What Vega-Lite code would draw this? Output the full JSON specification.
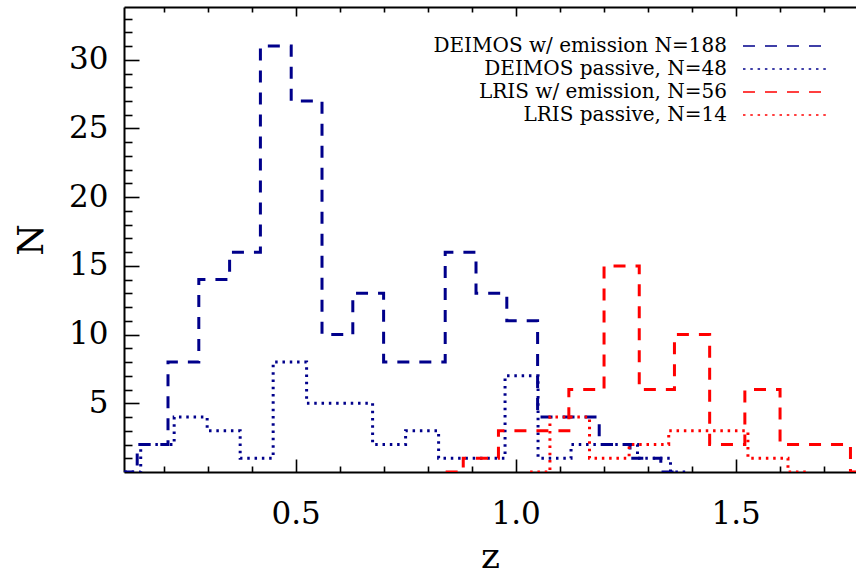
{
  "$schema": "https://vega.github.io/schema/vega-lite/v6.json",
  "width": 732,
  "height": 465,
  "autosize": {"type": "none"},
  "padding": {"left": 124, "top": 7, "right": 0, "bottom": 104},
  "background": "white",
  "config": {
    "view": {"stroke": null},
    "font": "DejaVu Serif",
    "axis": {
      "grid": false,
      "domainColor": "black",
      "domainWidth": 2,
      "tickColor": "black",
      "tickWidth": 1.6,
      "labelColor": "black",
      "titleColor": "black",
      "labelFont": "DejaVu Serif",
      "titleFont": "DejaVu Serif",
      "labelFontSize": 31,
      "titleFontSize": 36,
      "titleFontWeight": "normal"
    },
    "legend": {
      "orient": "none",
      "legendX": 650,
      "legendY": 27.5,
      "title": null,
      "symbolType": "M-4,0L4,0",
      "symbolSize": 451.6,
      "symbolStrokeWidth": 1.5,
      "labelAlign": "right",
      "labelOffset": -70,
      "labelFont": "DejaVu Serif",
      "labelFontSize": 20,
      "labelColor": "black",
      "labelLimit": 500,
      "rowPadding": 1,
      "padding": 0
    }
  },
  "data": {
    "values": [
      {"s": "DEIMOS w/ emission N=188", "z": 0.105, "n": 0},
      {"s": "DEIMOS w/ emission N=188", "z": 0.14, "n": 2},
      {"s": "DEIMOS w/ emission N=188", "z": 0.21, "n": 8},
      {"s": "DEIMOS w/ emission N=188", "z": 0.28, "n": 14},
      {"s": "DEIMOS w/ emission N=188", "z": 0.35, "n": 16},
      {"s": "DEIMOS w/ emission N=188", "z": 0.42, "n": 31},
      {"s": "DEIMOS w/ emission N=188", "z": 0.49, "n": 27},
      {"s": "DEIMOS w/ emission N=188", "z": 0.56, "n": 10},
      {"s": "DEIMOS w/ emission N=188", "z": 0.63, "n": 13},
      {"s": "DEIMOS w/ emission N=188", "z": 0.70, "n": 8},
      {"s": "DEIMOS w/ emission N=188", "z": 0.77, "n": 8},
      {"s": "DEIMOS w/ emission N=188", "z": 0.84, "n": 16},
      {"s": "DEIMOS w/ emission N=188", "z": 0.91, "n": 13},
      {"s": "DEIMOS w/ emission N=188", "z": 0.98, "n": 11},
      {"s": "DEIMOS w/ emission N=188", "z": 1.05, "n": 4},
      {"s": "DEIMOS w/ emission N=188", "z": 1.12, "n": 4},
      {"s": "DEIMOS w/ emission N=188", "z": 1.19, "n": 2},
      {"s": "DEIMOS w/ emission N=188", "z": 1.26, "n": 1},
      {"s": "DEIMOS w/ emission N=188", "z": 1.33, "n": 0},
      {"s": "DEIMOS w/ emission N=188", "z": 1.365, "n": 0},
      {"s": "DEIMOS passive, N=48", "z": 0.111, "n": 0},
      {"s": "DEIMOS passive, N=48", "z": 0.148, "n": 2},
      {"s": "DEIMOS passive, N=48", "z": 0.224, "n": 4},
      {"s": "DEIMOS passive, N=48", "z": 0.299, "n": 3},
      {"s": "DEIMOS passive, N=48", "z": 0.374, "n": 1},
      {"s": "DEIMOS passive, N=48", "z": 0.449, "n": 8},
      {"s": "DEIMOS passive, N=48", "z": 0.525, "n": 5},
      {"s": "DEIMOS passive, N=48", "z": 0.600, "n": 5},
      {"s": "DEIMOS passive, N=48", "z": 0.675, "n": 2},
      {"s": "DEIMOS passive, N=48", "z": 0.750, "n": 3},
      {"s": "DEIMOS passive, N=48", "z": 0.825, "n": 1},
      {"s": "DEIMOS passive, N=48", "z": 0.901, "n": 1},
      {"s": "DEIMOS passive, N=48", "z": 0.976, "n": 7},
      {"s": "DEIMOS passive, N=48", "z": 1.051, "n": 1},
      {"s": "DEIMOS passive, N=48", "z": 1.126, "n": 2},
      {"s": "DEIMOS passive, N=48", "z": 1.201, "n": 2},
      {"s": "DEIMOS passive, N=48", "z": 1.277, "n": 1},
      {"s": "DEIMOS passive, N=48", "z": 1.352, "n": 0},
      {"s": "DEIMOS passive, N=48", "z": 1.390, "n": 0},
      {"s": "LRIS w/ emission, N=56", "z": 0.841, "n": 0},
      {"s": "LRIS w/ emission, N=56", "z": 0.881, "n": 1},
      {"s": "LRIS w/ emission, N=56", "z": 0.961, "n": 3},
      {"s": "LRIS w/ emission, N=56", "z": 1.041, "n": 3},
      {"s": "LRIS w/ emission, N=56", "z": 1.121, "n": 6},
      {"s": "LRIS w/ emission, N=56", "z": 1.201, "n": 15},
      {"s": "LRIS w/ emission, N=56", "z": 1.281, "n": 6},
      {"s": "LRIS w/ emission, N=56", "z": 1.361, "n": 10},
      {"s": "LRIS w/ emission, N=56", "z": 1.441, "n": 2},
      {"s": "LRIS w/ emission, N=56", "z": 1.521, "n": 6},
      {"s": "LRIS w/ emission, N=56", "z": 1.601, "n": 2},
      {"s": "LRIS w/ emission, N=56", "z": 1.681, "n": 2},
      {"s": "LRIS w/ emission, N=56", "z": 1.761, "n": 0},
      {"s": "LRIS w/ emission, N=56", "z": 1.80, "n": 0},
      {"s": "LRIS passive, N=14", "z": 1.033, "n": 0},
      {"s": "LRIS passive, N=14", "z": 1.078, "n": 4},
      {"s": "LRIS passive, N=14", "z": 1.168, "n": 1},
      {"s": "LRIS passive, N=14", "z": 1.258, "n": 2},
      {"s": "LRIS passive, N=14", "z": 1.348, "n": 3},
      {"s": "LRIS passive, N=14", "z": 1.438, "n": 3},
      {"s": "LRIS passive, N=14", "z": 1.528, "n": 1},
      {"s": "LRIS passive, N=14", "z": 1.619, "n": 0},
      {"s": "LRIS passive, N=14", "z": 1.664, "n": 0}
    ]
  },
  "encoding": {
    "color": {
      "field": "s", "type": "nominal",
      "scale": {
        "domain": ["DEIMOS w/ emission N=188", "DEIMOS passive, N=48", "LRIS w/ emission, N=56", "LRIS passive, N=14"],
        "range": ["#00008B", "#00008B", "#FF0000", "#FF0000"]
      }
    },
    "strokeDash": {
      "field": "s", "type": "nominal",
      "scale": {
        "domain": ["DEIMOS w/ emission N=188", "DEIMOS passive, N=48", "LRIS w/ emission, N=56", "LRIS passive, N=14"],
        "range": [[12, 10], [2.5, 4.8], [12, 10], [2.5, 4.8]]
      }
    }
  },
  "layer": [
    {
      "transform": [{"filter": "datum.s === 'DEIMOS w/ emission N=188'"}],
      "mark": {"type": "line", "interpolate": "step-after", "clip": true, "strokeWidth": 3},
      "encoding": {
        "x": {"field": "z", "type": "quantitative",
          "scale": {"domain": [0.11, 1.7736], "nice": false, "zero": false},
          "axis": {"orient": "bottom", "values": [0.5, 1.0, 1.5], "format": ".1f", "tickSize": -13, "labelPadding": 40, "title": "z", "titlePadding": 10}},
        "y": {"field": "n", "type": "quantitative",
          "scale": {"domain": [0, 33.84], "nice": false},
          "axis": {"orient": "left", "values": [5, 10, 15, 20, 25, 30], "tickSize": -15, "labelPadding": 31, "title": "N", "titlePadding": 18}}
      }
    },
    {
      "transform": [{"filter": "datum.s === 'DEIMOS passive, N=48'"}],
      "mark": {"type": "line", "interpolate": "step-after", "clip": true, "strokeWidth": 3},
      "encoding": {
        "x": {"field": "z", "type": "quantitative",
          "scale": {"domain": [0.11, 1.7736], "nice": false, "zero": false},
          "axis": {"orient": "bottom", "values": [0.2, 0.3, 0.4, 0.6, 0.7, 0.8, 0.9, 1.1, 1.2, 1.3, 1.4, 1.6, 1.7], "tickSize": -6, "labels": false, "domain": false, "title": null}},
        "y": {"field": "n", "type": "quantitative",
          "scale": {"domain": [0, 33.84], "nice": false},
          "axis": {"orient": "left", "values": [1, 2, 3, 4, 6, 7, 8, 9, 11, 12, 13, 14, 16, 17, 18, 19, 21, 22, 23, 24, 26, 27, 28, 29, 31, 32, 33], "tickSize": -8, "labels": false, "domain": false, "title": null}}
      }
    },
    {
      "transform": [{"filter": "datum.s === 'LRIS w/ emission, N=56'"}],
      "mark": {"type": "line", "interpolate": "step-after", "clip": true, "strokeWidth": 3},
      "encoding": {
        "x": {"field": "z", "type": "quantitative",
          "scale": {"domain": [0.11, 1.7736], "nice": false, "zero": false},
          "axis": {"orient": "top", "values": [0.5, 1.0, 1.5], "tickSize": -9, "labels": false, "title": null}},
        "y": {"field": "n", "type": "quantitative",
          "scale": {"domain": [0, 33.84], "nice": false},
          "axis": null}
      }
    },
    {
      "transform": [{"filter": "datum.s === 'LRIS passive, N=14'"}],
      "mark": {"type": "line", "interpolate": "step-after", "clip": true, "strokeWidth": 3},
      "encoding": {
        "x": {"field": "z", "type": "quantitative",
          "scale": {"domain": [0.11, 1.7736], "nice": false, "zero": false},
          "axis": {"orient": "top", "values": [0.2, 0.3, 0.4, 0.6, 0.7, 0.8, 0.9, 1.1, 1.2, 1.3, 1.4, 1.6, 1.7], "tickSize": -5, "labels": false, "domain": false, "title": null}},
        "y": {"field": "n", "type": "quantitative",
          "scale": {"domain": [0, 33.84], "nice": false},
          "axis": null}
      }
    }
  ],
  "resolve": {"axis": {"x": "independent", "y": "independent"}}
}
